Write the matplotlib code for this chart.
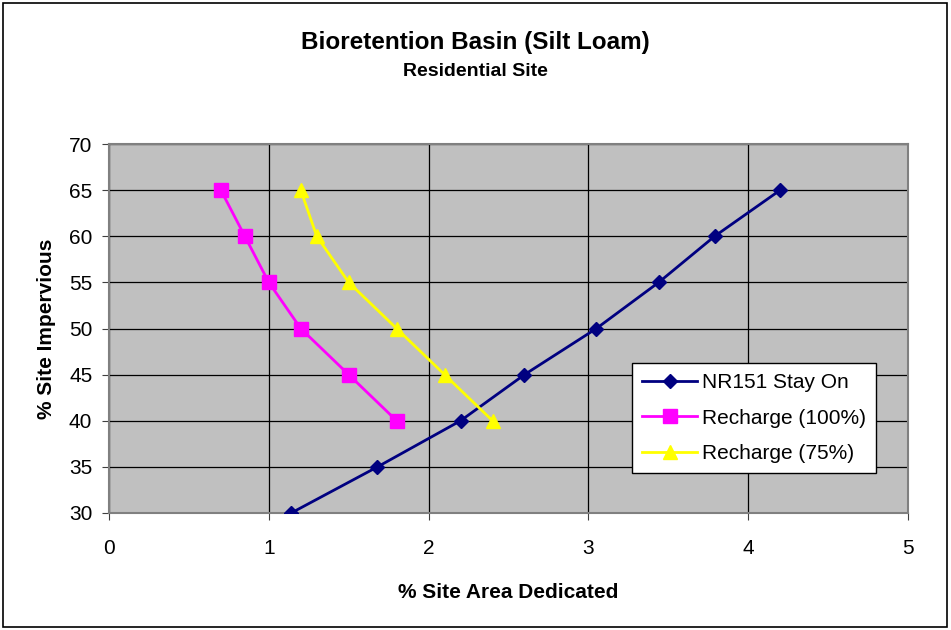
"""
Bioretention Basin (Silt Loam) - Residential Site
% site area dedicated vs % site impervious
"""
import matplotlib
matplotlib.use("Agg")
import matplotlib.pyplot as plt
from matplotlib.patches import Rectangle

plt.rcParams['font.family'] = ['Liberation Sans', 'DejaVu Sans']

# ── data ──
impervious = [30, 35, 40, 45, 50, 55, 60, 65]
nr151_area = [1.14, 1.68, 2.20, 2.60, 3.05, 3.44, 3.79, 4.20]

imp_recharge = [40, 45, 50, 55, 60, 65]
recharge100_area = [1.80, 1.50, 1.20, 1.00, 0.85, 0.70]
recharge75_area = [2.40, 2.10, 1.80, 1.50, 1.30, 1.20]

x_ticks = [0, 1, 2, 3, 4, 5]
y_ticks = [30, 35, 40, 45, 50, 55, 60, 65, 70]

NAVY = "#000080"
MAGENTA = "#FF00FF"
YELLOW = "#FFFF00"
PLOT_BG = "#C0C0C0"

fig = plt.figure(figsize=(9.51, 6.3), dpi=100)
W, H = 951, 630
ax = fig.add_axes([109 / W, 1 - 513 / H, (908 - 109) / W, (513 - 144) / H])
ax.set_facecolor(PLOT_BG)

# outer chart border
fig.patches.append(Rectangle((3 / W, 3 / H), 944 / W, 624 / H, transform=fig.transFigure,
                             fill=False, edgecolor='black', linewidth=1.2))

ax.plot(nr151_area, impervious, color=NAVY, linewidth=2, marker='D',
        markersize=7.5, label="NR151 Stay On", zorder=3)
ax.plot(recharge100_area, imp_recharge, color=MAGENTA, linewidth=2, marker='s',
        markersize=10.5, label="Recharge (100%)", zorder=3)
ax.plot(recharge75_area, imp_recharge, color=YELLOW, linewidth=2, marker='^',
        markersize=10.5, label="Recharge (75%)", zorder=3)

ax.set_xlim(0, 5)
ax.set_ylim(30, 70)
ax.set_xticks(x_ticks)
ax.set_yticks(y_ticks)
ax.grid(True, color='black', linewidth=0.9, zorder=1)
ax.set_axisbelow(True)
ax.tick_params(axis='both', labelsize=15, length=5, direction='out', color='#404040')
ax.tick_params(axis='y', pad=7)
ax.tick_params(axis='x', pad=14)
for side in ['left', 'bottom', 'top', 'right']:
    ax.spines[side].set_color('#808080')
    ax.spines[side].set_linewidth(1.5)

ax.set_xlabel("% Site Area Dedicated", fontsize=15, fontweight='bold', labelpad=18)
ax.set_ylabel("% Site Impervious", fontsize=15, fontweight='bold', labelpad=9)

fig.text(0.5, 1 - 43 / H, "Bioretention Basin (Silt Loam)", ha='center', va='center',
         fontsize=17.5, fontweight='bold')
fig.text(0.5, 1 - 72 / H, "Residential Site", ha='center', va='center',
         fontsize=14, fontweight='bold')

leg = ax.legend(loc='upper left', bbox_to_anchor=((632 - 109) / 799, (513 - 363) / 369),
                fontsize=15, frameon=True, fancybox=False,
                edgecolor='black', framealpha=1, borderpad=0.5, labelspacing=0.78,
                handlelength=2.6, handletextpad=0.25, borderaxespad=0)
leg.get_frame().set_linewidth(1)

fig.savefig("out.png", dpi=100, facecolor='white')
plt.close()
